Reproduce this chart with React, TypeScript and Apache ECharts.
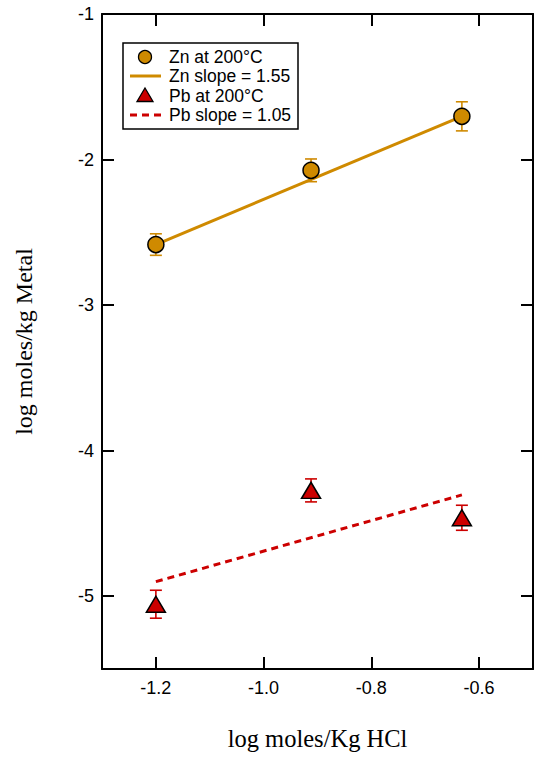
import React, { useEffect, useRef } from "react";
import * as echarts from "echarts";

// ---- data ----
const hclLog = [-1.2, -0.912, -0.632];
const znValues = [-2.584, -2.074, -1.703];
const znErrors = [0.074, 0.078, 0.1];
const pbValues = [-5.055, -4.273, -4.461];
const pbErrors = [0.096, 0.079, 0.086];
const znFitX = [-1.2, -0.632];
const znFitY = [-2.584, -1.703];
const pbFitX = [-1.2, -0.632];
const pbFitY = [-4.9, -4.304];
const legendLabels = ["Zn at 200°C", "Zn slope = 1.55", "Pb at 200°C", "Pb slope = 1.05"];
const xAxisTitle = "log moles/Kg HCl";
const yAxisTitle = "log moles/kg Metal";

const GOLD = "#CF8A00";
const RED = "#CC0000";
const SANS = "Liberation Sans, Arial, sans-serif";
const SERIF = "Liberation Serif, Times New Roman, serif";

function errorRender(color: string) {
  return (params: any, api: any) => {
    const x = api.value(0);
    const lo = api.value(1);
    const hi = api.value(2);
    const top = api.coord([x, hi]);
    const bot = api.coord([x, lo]);
    const half = 6;
    const style = { stroke: color, lineWidth: 1.6 };
    return {
      type: "group",
      children: [
        { type: "line", shape: { x1: top[0], y1: top[1], x2: bot[0], y2: bot[1] }, style },
        { type: "line", shape: { x1: top[0] - half, y1: top[1], x2: top[0] + half, y2: top[1] }, style },
        { type: "line", shape: { x1: bot[0] - half, y1: bot[1], x2: bot[0] + half, y2: bot[1] }, style },
      ],
    };
  };
}

export default function App() {
  const ref = useRef<HTMLDivElement>(null);
  useEffect(() => {
    if (!ref.current) return;
    const chart = echarts.init(ref.current, undefined, { renderer: "svg" });

    const znData = hclLog.map((x, i) => [x, znValues[i]]);
    const pbData = hclLog.map((x, i) => [x, pbValues[i]]);
    const znErr = hclLog.map((x, i) => [x, znValues[i] - znErrors[i], znValues[i] + znErrors[i]]);
    const pbErr = hclLog.map((x, i) => [x, pbValues[i] - pbErrors[i], pbValues[i] + pbErrors[i]]);
    const znFit = znFitX.map((x, i) => [x, znFitY[i]]);
    const pbFit = pbFitX.map((x, i) => [x, pbFitY[i]]);

    const axisLine = { show: true, lineStyle: { color: "#000", width: 2 } };
    const axisTick = { show: true, inside: true, length: 12, lineStyle: { color: "#000", width: 2 } };
    const xBase = { type: "value", min: -1.3, max: -0.5, splitNumber: 4, splitLine: { show: false }, axisLine, axisTick };
    const yBase = { type: "value", min: -5.5, max: -1, splitNumber: 4, splitLine: { show: false }, axisLine, axisTick };

    const lx = 145;
    const tx = 169;
    const rows = [57, 76, 95.5, 115];
    const legendText = (t: string, y: number) => ({
      type: "text",
      x: tx,
      y,
      style: { text: t, fill: "#000", font: `17.5px ${SANS}`, textVerticalAlign: "middle", textAlign: "left" },
      z: 101,
    });

    chart.setOption({
      animation: false,
      backgroundColor: "#fff",
      grid: { left: 102, right: 17, top: 14, bottom: 91, containLabel: false },
      xAxis: [
        {
          ...xBase,
          position: "bottom",
          name: xAxisTitle,
          nameLocation: "middle",
          nameGap: 57,
          nameTextStyle: { fontFamily: SERIF, fontSize: 24.5, color: "#000" },
          axisLabel: {
            show: true,
            margin: 10,
            color: "#000",
            fontFamily: SANS,
            fontSize: 18,
            showMinLabel: false,
            showMaxLabel: false,
            formatter: (v: number) => v.toFixed(1),
          },
        },
        { ...xBase, position: "top", axisLabel: { show: false } },
      ],
      yAxis: [
        {
          ...yBase,
          position: "left",
          name: yAxisTitle,
          nameLocation: "middle",
          nameGap: 66,
          nameTextStyle: { fontFamily: SERIF, fontSize: 24, color: "#000" },
          axisLabel: {
            show: true,
            margin: 8,
            color: "#000",
            fontFamily: SANS,
            fontSize: 18,
            showMinLabel: false,
            showMaxLabel: true,
            formatter: (v: number) => String(v),
          },
        },
        { ...yBase, position: "right", axisLabel: { show: false } },
      ],
      series: [
        {
          name: legendLabels[1],
          type: "line",
          data: znFit,
          showSymbol: false,
          lineStyle: { color: GOLD, width: 3 },
          z: 2,
        },
        {
          name: legendLabels[3],
          type: "line",
          data: pbFit,
          showSymbol: false,
          lineStyle: { color: RED, width: 3, type: [7, 5] },
          z: 2,
        },
        { type: "custom", data: znErr, renderItem: errorRender(GOLD), z: 3 },
        { type: "custom", data: pbErr, renderItem: errorRender(RED), z: 3 },
        {
          name: legendLabels[0],
          type: "scatter",
          data: znData,
          symbol: "circle",
          symbolSize: 16,
          itemStyle: { color: GOLD, borderColor: "#000", borderWidth: 1.5, opacity: 1 },
          z: 5,
        },
        {
          name: legendLabels[2],
          type: "scatter",
          data: pbData,
          symbol: "triangle",
          symbolSize: [19, 16],
          itemStyle: { color: RED, borderColor: "#000", borderWidth: 1.5, opacity: 1 },
          z: 5,
        },
      ],
      graphic: [
        {
          type: "rect",
          shape: { x: 123, y: 43, width: 175, height: 86 },
          style: { fill: "#fff", stroke: "#000", lineWidth: 1.5 },
          z: 100,
        },
        {
          type: "circle",
          shape: { cx: lx, cy: rows[0], r: 6.5 },
          style: { fill: GOLD, stroke: "#000", lineWidth: 1.3 },
          z: 101,
        },
        {
          type: "line",
          shape: { x1: 130, y1: rows[1], x2: 161, y2: rows[1] },
          style: { stroke: GOLD, lineWidth: 3 },
          z: 101,
        },
        {
          type: "polygon",
          shape: { points: [[lx, rows[2] - 7.5], [lx + 8, rows[2] + 6], [lx - 8, rows[2] + 6]] },
          style: { fill: RED, stroke: "#000", lineWidth: 1.3 },
          z: 101,
        },
        {
          type: "line",
          shape: { x1: 130, y1: rows[3], x2: 162, y2: rows[3] },
          style: { stroke: RED, lineWidth: 3, lineDash: [7, 5] },
          z: 101,
        },
        legendText(legendLabels[0], rows[0]),
        legendText(legendLabels[1], rows[1]),
        legendText(legendLabels[2], rows[2]),
        legendText(legendLabels[3], rows[3]),
      ],
    });
    return () => chart.dispose();
  }, []);
  return (
    <div
      ref={ref}
      style={{ position: "absolute", left: 0, top: 0, width: 550, height: 760, background: "#fff" }}
    />
  );
}
